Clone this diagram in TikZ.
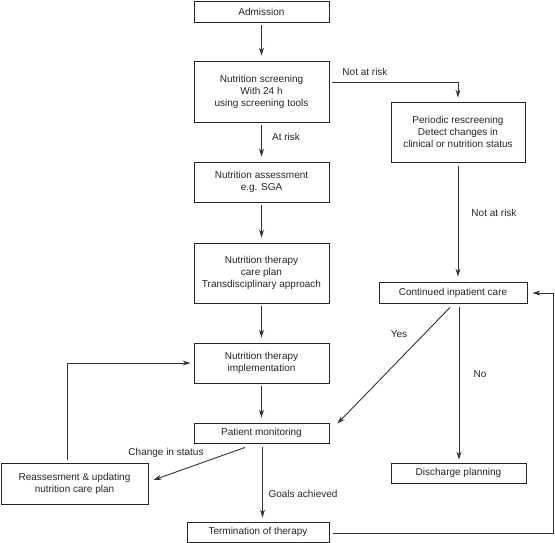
\documentclass[tikz,border=0pt]{standalone}
\usepackage{fontspec}
\setmainfont{Liberation Sans}
\usetikzlibrary{arrows.meta,calc}
\begin{document}
\begin{tikzpicture}[x=1pt,y=-1pt,
 box/.style={draw=black!85,line width=0.9pt,inner sep=0pt,align=center,font=\fontsize{10}{12}\selectfont,text=black!85},
 arr/.style={draw=black!80,line width=0.9pt,-{Stealth[length=8pt,width=5pt]}},
 vgap/.style={shorten <=3pt,shorten >=5pt},
 lbl/.style={font=\fontsize{10}{12}\selectfont,text=black!85,inner sep=0pt}]
\useasboundingbox (0,0) rectangle (555,543);
\node[box,minimum width=135pt,minimum height=21pt] (adm) at (261.5,11.5) {Admission};
\node[box,minimum width=135pt,minimum height=61pt] (scr) at (261.5,91.5) {Nutrition screening\\With 24 h\\using screening tools};
\node[box,minimum width=134pt,minimum height=60pt] (per) at (458,132) {Periodic rescreening\\Detect changes in\\clinical or nutrition status};
\node[box,minimum width=135pt,minimum height=40pt] (ass) at (261.5,182) {Nutrition assessment\\e.g. SGA};
\node[box,minimum width=135pt,minimum height=60pt] (cp) at (261.5,273) {Nutrition therapy\\care plan\\Transdisciplinary approach};
\node[box,minimum width=148pt,minimum height=21pt] (cont) at (453,292.5) {Continued inpatient care};
\node[box,minimum width=135pt,minimum height=40pt] (imp) at (261.5,363) {Nutrition therapy\\implementation};
\node[box,minimum width=135pt,minimum height=20pt] (mon) at (261.5,433) {Patient monitoring};
\node[box,minimum width=147pt,minimum height=41pt] (rea) at (74.5,483.5) {Reassesment \& updating\\nutrition care plan};
\node[box,minimum width=135pt,minimum height=20pt] (dis) at (458.5,473) {Discharge planning};
\node[box,minimum width=142pt,minimum height=20pt] (ter) at (258,532) {Termination of therapy};

\draw[arr,vgap] (adm) -- (scr);
\draw[arr] ($(scr.east)+(3,-9.5)$) -| ($(per.north)+(0,-4)$);
\draw[arr,vgap] (scr) -- (ass);
\draw[arr,vgap] (ass) -- (cp);
\draw[arr,vgap] (cp) -- (imp);
\draw[arr,vgap] (imp) -- (mon);
\draw[arr] ($(per.south)+(0,4)$) -- ($(per.south |- cont.north)+(0,-5)$);
\coordinate (rc) at (553.5,533);
\draw[arr] ($(ter.east)+(4,1)$) -- (rc) |- ($(cont.east)+(5,0.5)$);
\draw[arr] ($(cont.south)+(-3,4)$) -- ($(mon.north east)+(8,1)$);
\draw[arr] ($(cont.south)+(6,4)$) -- ($(dis.north)+(0.5,-3)$);
\draw[arr] ($(mon.south)+(-16.5,4)$) -- ($(rea.east)+(5,-3.5)$);
\draw[arr] ($(mon.south)+(1,4)$) -- ($(mon.south |- ter.north)+(1,-4)$);
\draw[arr] ($(rea.north)+(-7.5,-3)$) |- ($(imp.west)+(-3,0)$);

\node[lbl] (l1) at (365,72) {Not at risk};
\node[lbl] (l2) at (286,137) {At risk};
\node[lbl] (l3) at (494,213) {Not at risk};
\node[lbl] (l4) at (399,334) {Yes};
\node[lbl] (l5) at (480,374) {No};
\node[lbl] (l6) at (166,453) {Change in status};
\node[lbl] (l7) at (303,494) {Goals achieved};
\end{tikzpicture}
\end{document}
